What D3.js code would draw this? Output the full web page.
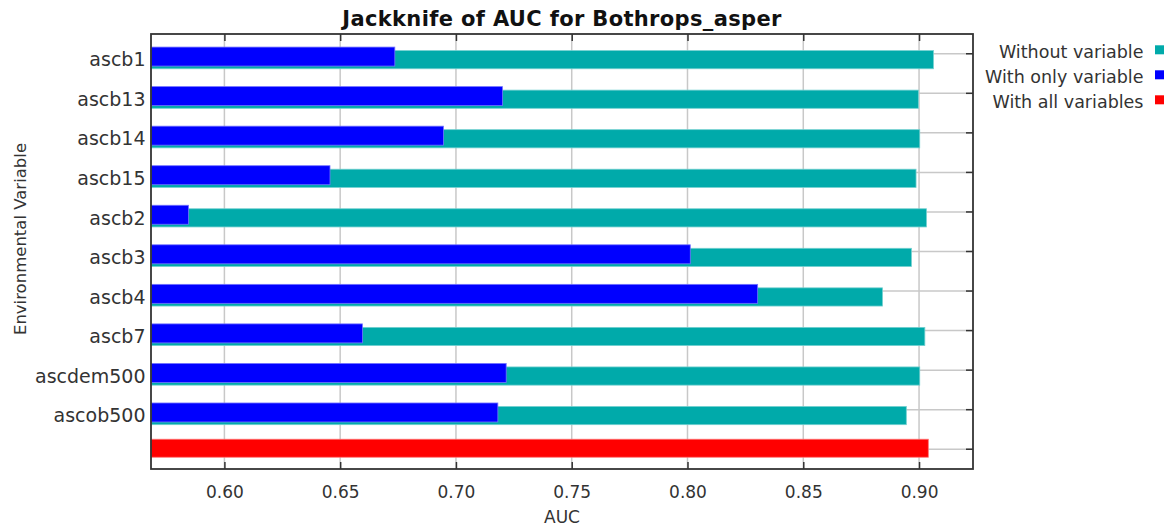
<!DOCTYPE html>
<html>
<head>
<meta charset="utf-8">
<script src="https://cdn.jsdelivr.net/npm/d3@7"></script>
<style>
  body { margin: 0; background: #fff; }
  #chart { width: 1176px; height: 527px; }
  .grid line { stroke: #c8c8c8; stroke-width: 1.5; }
  .axis text { fill: #333; font-family: "DejaVu Sans", sans-serif; }
  .axis line { stroke: #333; stroke-width: 1.5; }
  .axis .domain { display: none; }
</style>
</head>
<body>
<div id="chart"></div>
<script>
const variables = ["ascb1", "ascb13", "ascb14", "ascb15", "ascb2", "ascb3", "ascb4", "ascb7", "ascdem500", "ascob500"];
const withoutVariable = [0.9062, 0.8997, 0.9003, 0.8987, 0.9032, 0.8967, 0.8842, 0.9025, 0.9003, 0.8945];
const withOnlyVariable = [0.6736, 0.7201, 0.6946, 0.6456, 0.5845, 0.8012, 0.8303, 0.6596, 0.7217, 0.7181];
const withAllVariables = [0.904];
const xTicks = [0.60, 0.65, 0.70, 0.75, 0.80, 0.85, 0.90];
const legendLabels = ["Without variable", "With only variable", "With all variables"];

const colors = { without: "#00aaaa", only: "#0000ff", all: "#ff0000" };
const outline = c => d3.interpolateRgb(c, "#fff")(0.45);

const width = 1176;
const height = 527;
const margin = { top: 34, right: 203, bottom: 58, left: 151 };
const innerW = width - margin.left - margin.right;
const innerH = height - margin.top - margin.bottom;

const xScale = d3.scaleLinear().domain([0.5683, 0.9233]).range([0, innerW]);
const yScale = d3.scaleBand().domain([...variables, "all"]).range([0, innerH]);
const center = d => yScale(d) + yScale.bandwidth() / 2;

const svg = d3.select("#chart").append("svg")
  .attr("width", width)
  .attr("height", height);

const g = svg.append("g")
  .attr("transform", "translate(" + margin.left + "," + margin.top + ")");

// grid
const grid = g.append("g").attr("class", "grid");
grid.selectAll(".vx").data(xTicks).enter().append("line")
  .attr("x1", d => xScale(d)).attr("x2", d => xScale(d))
  .attr("y1", 0).attr("y2", innerH);
grid.selectAll(".hy").data(yScale.domain()).enter().append("line")
  .attr("x1", 0).attr("x2", innerW)
  .attr("y1", d => center(d)).attr("y2", d => center(d));

// bars
const rows = variables.map((v, i) => ({ name: v, without: withoutVariable[i], only: withOnlyVariable[i] }));

g.append("g").selectAll("rect").data(rows).enter().append("rect")
  .attr("x", 0)
  .attr("y", d => center(d.name) - 3.2)
  .attr("width", d => xScale(d.without))
  .attr("height", 18.2)
  .attr("fill", colors.without)
  .attr("stroke", outline(colors.without))
  .attr("stroke-width", 0.8);

g.append("g").selectAll("rect").data(rows).enter().append("rect")
  .attr("x", 0)
  .attr("y", d => center(d.name) - 6.7)
  .attr("width", d => xScale(d.only))
  .attr("height", 19)
  .attr("fill", colors.only)
  .attr("stroke", outline(colors.only))
  .attr("stroke-width", 0.8);

g.append("g").selectAll("rect").data(withAllVariables).enter().append("rect")
  .attr("x", 0)
  .attr("y", center("all") - 10)
  .attr("width", d => xScale(d))
  .attr("height", 18)
  .attr("fill", colors.all)
  .attr("stroke", outline(colors.all))
  .attr("stroke-width", 0.8);

// axes
g.append("g")
  .attr("class", "axis")
  .attr("transform", "translate(0," + innerH + ")")
  .call(d3.axisBottom(xScale).tickValues(xTicks).tickFormat(d3.format(".2f"))
    .tickSizeInner(-7).tickSizeOuter(0).tickPadding(17))
  .call(a => a.selectAll("text").style("font-size", "17px"));

g.append("g")
  .attr("class", "axis")
  .call(d3.axisTop(xScale).tickValues(xTicks).tickFormat("")
    .tickSizeInner(-7).tickSizeOuter(0));

g.append("g")
  .attr("class", "axis")
  .attr("transform", "translate(" + innerW + ",0)")
  .call(d3.axisRight(yScale).tickFormat("").tickSizeInner(-7).tickSizeOuter(0));

g.append("g")
  .attr("class", "axis")
  .call(d3.axisLeft(yScale).tickFormat(d => d === "all" ? "" : d)
    .tickSize(0).tickPadding(5.5))
  .call(a => a.selectAll("text").style("font-size", "19px").attr("dy", "0.66em"));

// frame
g.append("rect")
  .attr("width", innerW)
  .attr("height", innerH)
  .attr("fill", "none")
  .attr("stroke", "#333")
  .attr("stroke-width", 1.8);

// title and axis labels
svg.append("text")
  .attr("x", margin.left + innerW / 2)
  .attr("y", 26)
  .attr("text-anchor", "middle")
  .style("font-family", "DejaVu Sans, sans-serif")
  .style("font-weight", "bold")
  .style("font-size", "21px")
  .style("letter-spacing", "0.35px")
  .attr("fill", "#111")
  .text("Jackknife of AUC for Bothrops_asper");

svg.append("text")
  .attr("x", margin.left + innerW / 2)
  .attr("y", 522.5)
  .attr("text-anchor", "middle")
  .style("font-family", "DejaVu Sans, sans-serif")
  .style("font-size", "17px")
  .attr("fill", "#333")
  .text("AUC");

svg.append("text")
  .attr("transform", "translate(25.7,239) rotate(-90)")
  .attr("text-anchor", "middle")
  .style("font-family", "DejaVu Sans, sans-serif")
  .style("font-size", "16.5px")
  .attr("fill", "#333")
  .text("Environmental Variable");

// legend
const legend = svg.append("g").attr("transform", "translate(1143.5,58.3)");
const legendColors = [colors.without, colors.only, colors.all];
const items = legend.selectAll("g").data(legendLabels).enter().append("g")
  .attr("transform", (d, i) => "translate(0," + i * 25 + ")");
items.append("text")
  .attr("text-anchor", "end")
  .style("font-family", "DejaVu Sans, sans-serif")
  .style("font-size", "17.5px")
  .attr("fill", "#333")
  .text(d => d);
items.append("rect")
  .attr("x", 11.5)
  .attr("y", -13)
  .attr("width", 9)
  .attr("height", 9)
  .attr("fill", (d, i) => legendColors[i]);
</script>
</body>
</html>
